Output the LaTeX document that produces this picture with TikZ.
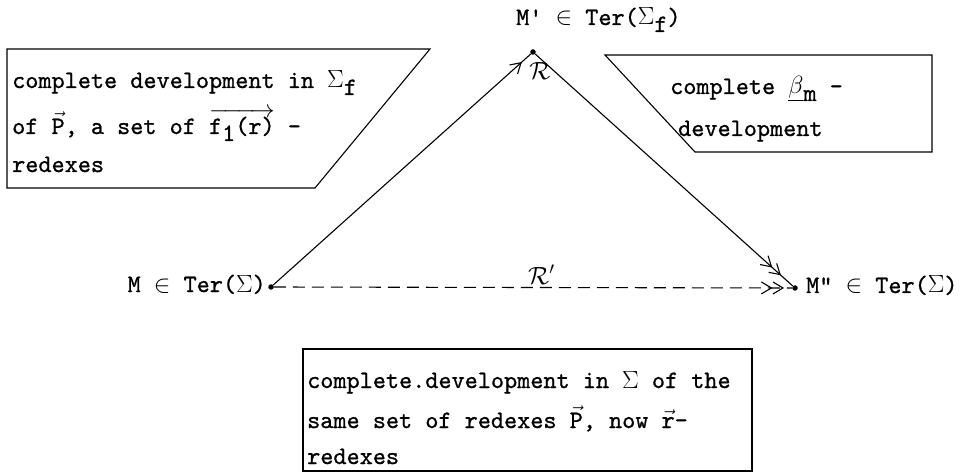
\documentclass[tikz,border=0pt]{standalone}
\usepackage{fontspec}
\setmonofont[FakeBold=0.9]{lmmono10-regular.otf}
\usetikzlibrary{arrows.meta,decorations.markings}
\begin{document}
\begin{tikzpicture}[x=1pt,y=-1pt,
  txt/.style={inner sep=0pt, anchor=base west, font=\fontsize{25}{30}\selectfont\ttfamily},
  box/.style={line width=1.1pt},
  dotnode/.style={circle, fill=black, inner sep=0pt, minimum size=5.5pt},
  conn/.style={line width=1.1pt},
  tipone/.style={postaction={decorate}, decoration={markings, mark=at position #1 with {\arrow{Straight Barb[length=10pt,width=12pt,line width=1.1pt]}}}},
  tiptwo/.style={postaction={decorate}, decoration={markings, mark=at position #1 with {\arrow{Straight Barb[length=10pt,width=12pt,line width=1.1pt] Straight Barb[length=10pt,width=12pt,line width=1.1pt]}}}}
]
\useasboundingbox (0,0) rectangle (967,473);

% boxes
\draw[box] (7,49) -- (430,49) -- (315,188) -- (7,188) -- cycle;
\draw[box] (605,55) -- (932,55) -- (932,152) -- (695,152) -- cycle;
\draw[box] (303,349) rectangle (752,471);

% box texts
\node[txt] (l1) at (12,88) {complete development in $\Sigma$\raisebox{-7pt}{f}};
\node[txt] (l2) at (12,134) {of $\vec{\hbox{P}}$, a set of $\overrightarrow{\hbox{f\raisebox{-7pt}{1}(r)}}$ -};
\node[txt] (l3) at (12,172) {redexes};

\node[txt] (r1) at (670,94) {complete \underline{$\beta$}\raisebox{-7pt}{m} -};
\node[txt] (r2) at (678,136) {development};

\node[txt] (b1) at (307,388) {complete.development in $\Sigma$ of the};
\node[txt] (b2) at (307,428) {same set of redexes $\vec{\hbox{P}}$, now $\vec{\hbox{r}}$-};
\node[txt] (b3) at (307,464) {redexes};

% points
\node[dotnode] (M) at (271,287) {};
\node[dotnode] (Mp) at (533,52) {};
\node[dotnode] (Mpp) at (795,288) {};

\node[txt, anchor=base east] (Ml) at (266,292) {M $\in$ Ter($\Sigma$)};
\node[txt] (Mpl) at (516,25) {M' $\in$ Ter($\Sigma$\raisebox{-7pt}{f})};
\node[txt] (Mppl) at (806,293) {M" $\in$ Ter($\Sigma$)};

% connectors
\draw[conn, tipone=-12pt] (M) -- (Mp);
\draw[conn, tiptwo=-16pt] (Mp) -- (Mpp);
\draw[conn, dash pattern=on 12pt off 7pt, tiptwo=-8pt] (M) -- (Mpp);

\node[inner sep=0pt, font=\fontsize{25}{30}\selectfont] (R) at (540,71) {$\mathcal{R}$};
\node[inner sep=0pt, anchor=base west, font=\fontsize{25}{30}\selectfont] (Rp) at (528,284) {$\mathcal{R}'$};
\end{tikzpicture}
\end{document}
